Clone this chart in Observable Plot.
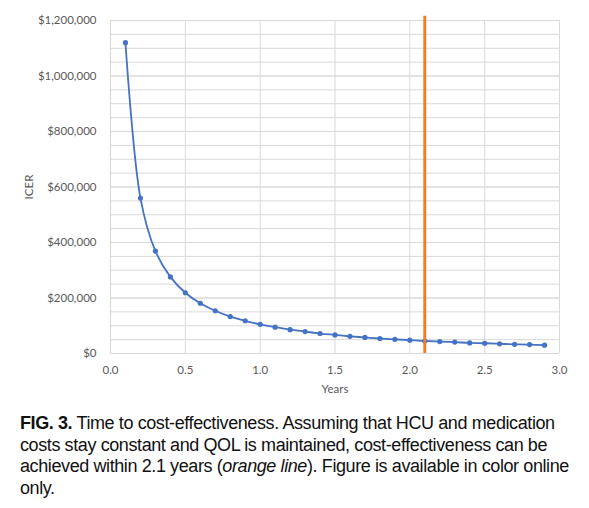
<!DOCTYPE html>
<html>
<head>
<meta charset="utf-8">
<script src="https://cdn.jsdelivr.net/npm/d3@7"></script>
<script src="https://cdn.jsdelivr.net/npm/@observablehq/plot@0.6"></script>
<style>
  body { margin: 0; background: #fff; }
  #chart svg { display: block; }
  #caption {
    font-family: "Liberation Sans", Arial, sans-serif;
    font-size: 18px;
    letter-spacing: -0.4px;
    line-height: 21.5px;
    color: #111;
    margin: 15px 0 0 20px;
    white-space: nowrap;
  }
</style>
</head>
<body>
<div id="chart"></div>
<div id="caption"><b>FIG. 3.</b> Time to cost-effectiveness. Assuming that HCU and medication<br>costs stay constant and QOL is maintained, cost-effectiveness can be<br>achieved within 2.1 years (<i>orange line</i>). Figure is available in color online<br>only.</div>
<script>
// anios y valor del ICER
const years = [0.1, 0.2, 0.3, 0.4, 0.5, 0.6, 0.7, 0.8, 0.9, 1.0,
  1.1, 1.2, 1.3, 1.4, 1.5, 1.6, 1.7, 1.8, 1.9, 2.0,
  2.1, 2.2, 2.3, 2.4, 2.5, 2.6, 2.7, 2.8, 2.9]
const icer = [1120000, 560000, 369000, 276000, 219000, 181000, 154000, 133000, 118000, 105000,
  95000, 86000, 79000, 72000, 67000, 62000, 58000, 54000, 51000, 48000,
  45000, 43000, 41000, 38000, 37000, 35000, 33000, 32000, 30000]
const breakEven = [2.1]
const xTicks = [0, 0.5, 1, 1.5, 2, 2.5, 3]
const yTicks = [0, 200000, 400000, 600000, 800000, 1000000, 1200000]
const yMinor = d3.range(0, 1200001, 50000)

const data = years.map((y, i) => ({anio: y, icer: icer[i]}))

const grey = '#595959'

let chart = Plot.plot({
  width: 589,
  height: 398,
  marginLeft: 110,
  marginRight: 30,
  marginTop: 20,
  marginBottom: 45,
  style: {fontFamily: 'Lato, sans-serif', fontSize: '11.5px', color: grey},
  x: {domain: [0, 3]},
  y: {domain: [0, 1200000]},
  marks: [
    Plot.gridX(xTicks, {stroke: '#d9d9d9', strokeOpacity: 1}),
    Plot.gridY(yTicks, {stroke: '#d9d9d9', strokeOpacity: 1}),
    Plot.tickY(yMinor, {x1: 0, x2: 0.02, stroke: '#d9d9d9'}),
    Plot.ruleY([0], {stroke: '#d9d9d9', strokeWidth: 1.2}),
    Plot.ruleX([0], {stroke: '#d9d9d9', strokeWidth: 1.2}),
    Plot.axisX(xTicks, {tickSize: 0, tickPadding: 12, tickFormat: d3.format('.1f'),
      label: 'Years', labelAnchor: 'center', labelArrow: 'none', labelOffset: 39, fontSize: 11.5}),
    Plot.axisY(yTicks, {tickSize: 0, tickPadding: 14, tickFormat: d => '$' + d3.format(',')(d),
      label: 'ICER', labelAnchor: 'center', labelArrow: 'none', labelOffset: 86}),
    Plot.line(data, {x: 'anio', y: 'icer', stroke: '#4472C4', strokeWidth: 1.8, curve: 'catmull-rom'}),
    Plot.dot(data, {x: 'anio', y: 'icer', fill: '#4472C4', r: 2.6}),
    Plot.ruleX(breakEven, {y1: 0, y2: 1215000, stroke: '#ED7D31', strokeWidth: 3})
  ]
})

d3.select('#chart').append(() => chart)
</script>
</body>
</html>
